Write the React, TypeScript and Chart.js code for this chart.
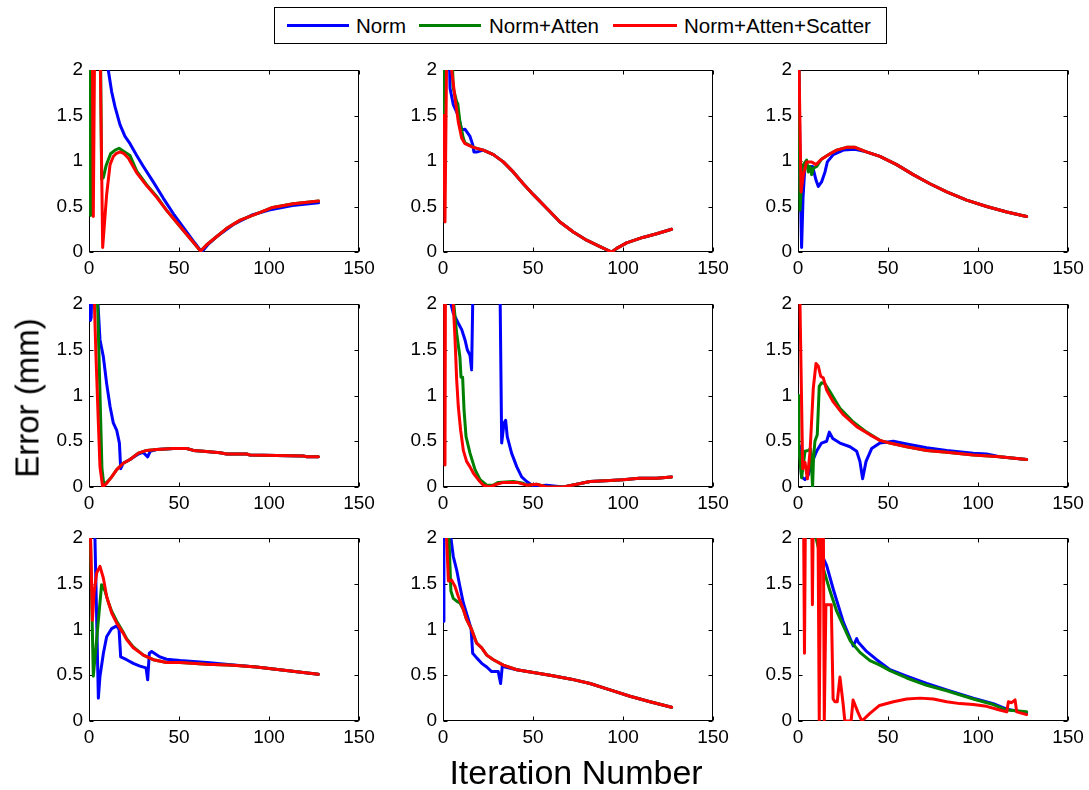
import React, { useEffect, useRef } from 'react';
import { Chart, registerables } from 'chart.js';

Chart.register(...registerables);

// ---------- axes / legend ----------
const xTickValues = [0, 50, 100, 150];
const xTickLabels = ['0', '50', '100', '150'];
const yTickValues = [0, 0.5, 1, 1.5, 2];
const yTickLabels = ['0', '0.5', '1', '1.5', '2'];
const seriesNames = ['Norm', 'Norm+Atten', 'Norm+Atten+Scatter'];
const seriesColors = ['#0000ff', '#008000', '#ff0000'];
const xTitle = 'Iteration Number';
const yTitle = 'Error (mm)';

// ---------- panel 1 (top left) ----------
const p1NormX = [1, 10, 10.7, 12.6, 14.4, 17.2, 20, 22.8, 26.5, 30.2, 35.7, 41.3, 46.9, 52.4, 58, 62.6, 66, 71, 80, 91, 100, 113, 127.5];
const p1NormY = [3.5, 2.4, 2.0, 1.76, 1.6, 1.4, 1.27, 1.19, 1.06, 0.94, 0.77, 0.59, 0.42, 0.27, 0.12, 0.0, 0.08, 0.17, 0.3, 0.41, 0.46, 0.51, 0.54];
const p1AttenX = [0.3, 0.9, 1.4, 6.3, 7, 8, 9.5, 12, 14.5, 16.7, 19, 22.8, 26.5, 32, 37.6, 43, 50.6, 57, 62, 65.4, 71, 76.5, 84, 93, 102, 113.5, 127.5];
const p1AttenY = [2.5, 0.4, 2.5, 2.5, 0.8, 0.82, 0.95, 1.08, 1.12, 1.14, 1.11, 1.06, 0.89, 0.74, 0.61, 0.46, 0.28, 0.13, 0.01, 0.08, 0.17, 0.26, 0.35, 0.42, 0.49, 0.53, 0.56];
const p1ScatX = [1, 1.8, 2.4, 3.2, 6, 7.6, 9.8, 11.7, 13.5, 15, 17.2, 19.5, 21.9, 26.5, 32, 37.6, 43, 50.6, 57, 62, 65.4, 71, 76.5, 84, 93, 102, 113.5, 127.5];
const p1ScatY = [2.5, 2.5, 0.39, 2.5, 2.5, 0.05, 0.63, 0.96, 1.05, 1.08, 1.1, 1.08, 1.03, 0.87, 0.73, 0.6, 0.46, 0.28, 0.13, 0.01, 0.08, 0.17, 0.26, 0.35, 0.42, 0.49, 0.53, 0.56];

// ---------- panel 2 (top middle) ----------
const p2NormX = [0.5, 3.2, 3.9, 5.7, 8.5, 10.4, 12.2, 15, 16.5, 17.2, 19, 22.4, 28, 33.5, 39, 44.6, 50.2, 57.6, 65, 72.4, 79.8, 87.2, 93.7, 96.5, 102, 111, 118.7, 127];
const p2NormY = [2.5, 2.5, 1.8, 1.62, 1.5, 1.34, 1.35, 1.27, 1.18, 1.1, 1.1, 1.12, 1.07, 0.99, 0.88, 0.75, 0.63, 0.48, 0.33, 0.22, 0.13, 0.06, 0.0, 0.04, 0.1, 0.16, 0.2, 0.25];
const p2AttenX = [0.2, 0.6, 4.5, 5.7, 7.6, 8.2, 9.4, 11.3, 12.2, 16.9, 22.4, 28, 33.5, 39, 44.6, 50.2, 57.6, 65, 72.4, 79.8, 87.2, 93.7, 96.5, 102, 111, 118.7, 127];
const p2AttenY = [1.5, 2.5, 2.5, 1.8, 1.65, 1.63, 1.43, 1.25, 1.2, 1.15, 1.12, 1.07, 0.99, 0.88, 0.75, 0.63, 0.48, 0.33, 0.22, 0.13, 0.06, 0.0, 0.04, 0.1, 0.16, 0.2, 0.25];
const p2ScatX = [0.3, 1.1, 2.2, 4.2, 4.8, 6.7, 8.5, 10.4, 12.2, 16.9, 22.4, 28, 33.5, 39, 44.6, 50.2, 57.6, 65, 72.4, 79.8, 87.2, 93.7, 96.5, 102, 111, 118.7, 127];
const p2ScatY = [1.5, 0.33, 2.5, 2.5, 2.0, 1.69, 1.43, 1.25, 1.19, 1.15, 1.12, 1.07, 0.99, 0.88, 0.75, 0.63, 0.48, 0.33, 0.22, 0.13, 0.06, 0.0, 0.04, 0.1, 0.16, 0.2, 0.25];

// ---------- panel 3 (top right) ----------
const p3NormX = [0.3, 1.2, 2, 2.8, 3.9, 5.7, 8.1, 10, 11.3, 13.1, 15, 16.3, 19.6, 25.2, 31.7, 38, 45.5, 54.8, 64, 73.3, 82.6, 93.7, 104.8, 116, 127];
const p3NormY = [2.5, 0.8, 0.05, 0.6, 0.96, 0.94, 0.94, 0.79, 0.72, 0.77, 0.88, 0.99, 1.07, 1.12, 1.13, 1.1, 1.05, 0.96, 0.85, 0.75, 0.66, 0.57, 0.5, 0.44, 0.39];
const p3AttenX = [0.3, 1.1, 2, 3, 4.8, 5.7, 6.7, 7.6, 8.5, 10.4, 13, 17.8, 21.5, 27, 31.7, 38, 45.5, 54.8, 64, 73.3, 82.6, 93.7, 104.8, 116, 127];
const p3AttenY = [2.5, 0.46, 0.75, 0.96, 1.01, 0.88, 0.94, 0.85, 0.92, 0.94, 1.02, 1.08, 1.12, 1.15, 1.15, 1.1, 1.05, 0.96, 0.85, 0.75, 0.66, 0.57, 0.5, 0.44, 0.39];
const p3ScatX = [0.2, 1.7, 3, 4.8, 7.6, 10, 13, 17.8, 21.5, 27, 31.7, 38, 45.5, 54.8, 64, 73.3, 82.6, 93.7, 104.8, 116, 127];
const p3ScatY = [2.5, 0.66, 0.85, 0.99, 0.99, 0.96, 1.02, 1.08, 1.12, 1.15, 1.15, 1.1, 1.05, 0.96, 0.85, 0.75, 0.66, 0.57, 0.5, 0.44, 0.39];

// ---------- panel 4 (middle left) ----------
const p4NormX = [0.2, 0.8, 1.2, 2, 5, 6.1, 8, 9.8, 11.7, 13.5, 15.4, 16.9, 17.6, 19, 22.8, 27.4, 30, 32.6, 34, 37.6, 46.9, 54.3, 58, 63.5, 72.8, 76.5, 87.6, 89.4, 119, 121, 127.4];
const p4NormY = [2.5, 1.82, 1.85, 2.5, 2.0, 1.61, 1.42, 1.13, 0.88, 0.7, 0.62, 0.48, 0.2, 0.26, 0.3, 0.36, 0.38, 0.33, 0.39, 0.41, 0.42, 0.42, 0.4, 0.39, 0.375, 0.36, 0.36, 0.35, 0.34, 0.33, 0.33];
const p4AttenX = [0.5, 4.8, 7.2, 8.1, 9.4, 12.6, 15.4, 19, 22.8, 27.4, 32, 37.6, 46.9, 54.3, 58, 63.5, 72.8, 76.5, 87.6, 89.4, 119, 121, 127.4];
const p4AttenY = [2.5, 2.0, 0.2, 0.05, 0.04, 0.11, 0.19, 0.26, 0.3, 0.37, 0.4, 0.41, 0.42, 0.42, 0.4, 0.39, 0.375, 0.36, 0.36, 0.35, 0.34, 0.33, 0.33];
const p4ScatX = [1, 3, 3.9, 5.2, 6.1, 7.6, 9.8, 12.6, 15.4, 19, 22.8, 27.4, 32, 37.6, 46.9, 54.3, 58, 63.5, 72.8, 76.5, 87.6, 89.4, 119, 121, 127.4];
const p4ScatY = [2.5, 2.0, 1.42, 0.7, 0.22, 0.0, 0.04, 0.11, 0.19, 0.26, 0.3, 0.37, 0.4, 0.41, 0.42, 0.42, 0.4, 0.39, 0.375, 0.36, 0.36, 0.35, 0.34, 0.33, 0.33];

// ---------- panel 5 (centre) ----------
const p5NormX = [1, 4.4, 5.7, 8.5, 10.4, 12.2, 13.5, 15, 15.9, 16.5, 17, 31.5, 32.6, 33.9, 34.8, 35.7, 38.1, 41, 43.7, 46.5, 50.2, 57.6, 66.9, 74.3, 81.7, 92.8, 100, 109, 118.7, 127];
const p5NormY = [2.5, 2.0, 1.9, 1.79, 1.72, 1.61, 1.5, 1.44, 1.28, 2.0, 2.5, 2.5, 0.48, 0.7, 0.73, 0.55, 0.37, 0.22, 0.11, 0.06, 0.01, 0.02, 0.0, 0.03, 0.06, 0.07, 0.08, 0.095, 0.095, 0.11];
const p5AttenX = [1, 5.5, 7.6, 9.4, 10, 10.9, 11.7, 12.8, 15, 17.8, 20.6, 24.3, 28, 30.7, 39, 44.6, 46.5, 52, 57.6, 66.9, 74.3, 81.7, 92.8, 100, 109, 118.7, 127];
const p5AttenY = [2.5, 2.1, 1.68, 1.42, 1.2, 1.2, 0.84, 0.55, 0.37, 0.19, 0.08, 0.02, 0.02, 0.05, 0.06, 0.04, 0.02, 0.03, 0.0, 0.0, 0.03, 0.06, 0.07, 0.08, 0.095, 0.095, 0.11];
const p5ScatX = [0.9, 1.1, 1.4, 5, 5.7, 6.7, 7.6, 8.5, 9.8, 11.3, 13.1, 15, 16.9, 19.6, 22.4, 26, 29.8, 33.5, 41, 46.5, 52, 57.6, 66.9, 74.3, 81.7, 92.8, 100, 109, 118.7, 127];
const p5ScatY = [2.5, 0.24, 2.5, 2.5, 2.0, 1.61, 1.17, 0.88, 0.62, 0.4, 0.28, 0.22, 0.15, 0.08, 0.02, 0.0, 0.03, 0.05, 0.05, 0.02, 0.03, 0.0, 0.0, 0.03, 0.06, 0.07, 0.08, 0.095, 0.095, 0.11];

// ---------- panel 6 (middle right) ----------
const p6NormX = [0.8, 2, 3.9, 5.7, 7.6, 10.3, 13.1, 15.9, 17.4, 19.3, 23.3, 28.9, 32.6, 34.4, 35.9, 37.8, 40.9, 45.5, 53, 60.4, 71.5, 82.6, 97.4, 104.8, 112, 127];
const p6NormY = [0.45, 0.11, 0.08, 0.13, 0.26, 0.39, 0.48, 0.5, 0.6, 0.53, 0.48, 0.44, 0.39, 0.28, 0.09, 0.28, 0.42, 0.48, 0.5, 0.47, 0.43, 0.4, 0.37, 0.36, 0.33, 0.3];
const p6AttenX = [0.1, 0.5, 2, 3.9, 5.7, 7, 7.6, 8.1, 8.6, 9.4, 10.7, 11.8, 13.1, 14.9, 17.8, 23.3, 30.7, 38.1, 45.5, 51, 60.4, 71.5, 82.6, 97.4, 112, 127];
const p6AttenY = [1.0, 0.42, 0.1, 0.39, 0.4, 0.42, 0.2, 0.0, 0.3, 0.5, 0.57, 1.1, 1.14, 1.13, 1.04, 0.86, 0.71, 0.6, 0.51, 0.48, 0.44, 0.4, 0.38, 0.35, 0.33, 0.3];
const p6ScatX = [0.5, 1.1, 2.6, 3.9, 5.2, 6.7, 8.5, 10, 11.3, 12.6, 14.1, 15.9, 19.6, 25.2, 32.6, 40, 45.5, 51, 60.4, 71.5, 82.6, 97.4, 112, 127];
const p6ScatY = [2.5, 2.0, 0.2, 0.27, 0.09, 0.39, 1.08, 1.35, 1.32, 1.21, 1.19, 1.06, 0.93, 0.79, 0.66, 0.57, 0.51, 0.48, 0.44, 0.4, 0.38, 0.35, 0.33, 0.3];

// ---------- panel 7 (bottom left) ----------
const p7NormX = [0.5, 3, 3.3, 5.2, 6.1, 8, 9.8, 12.6, 15.4, 16.7, 17.6, 20.9, 24.6, 28.3, 31.7, 32.6, 33.5, 34.8, 39.4, 43.1, 50.6, 65.4, 82, 93, 106, 119, 127.4];
const p7NormY = [2.5, 2.5, 2.0, 0.25, 0.49, 0.74, 0.92, 1.01, 1.04, 1.0, 0.7, 0.67, 0.63, 0.6, 0.58, 0.45, 0.74, 0.76, 0.7, 0.675, 0.66, 0.64, 0.61, 0.59, 0.56, 0.53, 0.51];
const p7AttenX = [0.3, 1.2, 2.4, 7, 8.9, 10.7, 12.6, 15.4, 19, 20.9, 24.6, 30.2, 35.7, 43.1, 50.6, 65.4, 80, 93, 106, 119, 127.4];
const p7AttenY = [2.5, 1.6, 0.49, 1.49, 1.42, 1.3, 1.2, 1.09, 0.97, 0.9, 0.81, 0.72, 0.67, 0.64, 0.64, 0.62, 0.61, 0.59, 0.56, 0.53, 0.51];
const p7ScatX = [0.3, 1.9, 2.8, 4.3, 6.1, 8, 9.8, 12.6, 15.4, 19, 20.9, 24.6, 30.2, 35.7, 43.1, 50.6, 65.4, 80, 93, 106, 119, 127.4];
const p7ScatY = [2.5, 1.1, 1.4, 1.62, 1.69, 1.56, 1.36, 1.18, 1.07, 0.96, 0.89, 0.8, 0.72, 0.67, 0.64, 0.64, 0.62, 0.61, 0.59, 0.56, 0.53, 0.51];

// ---------- panel 8 (bottom middle) ----------
const p8NormX = [0.2, 0.5, 4.4, 5.7, 7.6, 9.4, 11.3, 14.1, 15.6, 16.5, 18.7, 21.5, 24.3, 27, 30.7, 32, 33, 34.4, 41, 50.2, 59.4, 70.6, 81.7, 92.8, 103.9, 115, 127];
const p8NormY = [1.09, 2.5, 2.0, 1.8, 1.65, 1.47, 1.29, 1.11, 1.01, 0.74, 0.69, 0.63, 0.59, 0.54, 0.54, 0.41, 0.61, 0.59, 0.56, 0.53, 0.5, 0.46, 0.41, 0.34, 0.27, 0.21, 0.15];
const p8AttenX = [1.5, 3.3, 4.4, 5.7, 7.6, 9.4, 11.3, 13.1, 15.9, 18.7, 21.5, 24.3, 28, 33.5, 41, 50.2, 59.4, 70.6, 81.7, 92.8, 103.9, 115, 127];
const p8AttenY = [2.5, 2.0, 1.42, 1.34, 1.31, 1.29, 1.22, 1.11, 1.0, 0.85, 0.8, 0.72, 0.67, 0.61, 0.56, 0.53, 0.5, 0.46, 0.41, 0.34, 0.27, 0.21, 0.15];
const p8ScatX = [1, 2, 3, 4.8, 6.7, 8.5, 11.3, 13.1, 15.9, 18.7, 21.5, 24.3, 28, 33.5, 41, 50.2, 59.4, 70.6, 81.7, 92.8, 103.9, 115, 127];
const p8ScatY = [2.5, 2.0, 1.53, 1.54, 1.47, 1.36, 1.22, 1.11, 1.0, 0.85, 0.8, 0.72, 0.67, 0.61, 0.56, 0.53, 0.5, 0.46, 0.41, 0.34, 0.27, 0.21, 0.15];

// ---------- panel 9 (bottom right) ----------
const p9NormX = [9.5, 10.7, 12.2, 15.9, 19.6, 25.2, 30.7, 32.6, 33.5, 38.1, 43.7, 51.1, 60.4, 71.5, 82.6, 97.4, 108.5, 116, 127];
const p9NormY = [2.5, 2.0, 1.86, 1.7, 1.44, 1.08, 0.82, 0.9, 0.86, 0.76, 0.67, 0.56, 0.49, 0.41, 0.34, 0.25, 0.19, 0.13, 0.09];
const p9AttenX = [9, 10, 14, 17.8, 21.5, 25.2, 28.9, 34.4, 40, 45.5, 51.1, 60.4, 71.5, 82.6, 97.4, 108.5, 116, 127];
const p9AttenY = [2.5, 2.0, 1.67, 1.42, 1.2, 1.04, 0.88, 0.75, 0.66, 0.61, 0.55, 0.47, 0.39, 0.33, 0.24, 0.18, 0.12, 0.1];
const p9ScatX = [1, 3, 3.6, 4.2, 7.5, 8, 8.6, 11, 11.8, 12.8, 14, 14.6, 15.5, 18.5, 19.5, 20.5, 21.8, 23.3, 25, 26, 29.5, 30.6, 33.2, 35.5, 39.8, 45.3, 53, 60.4, 67.8, 75.2, 82.6, 90, 97.4, 104.8, 112, 116, 116.9, 118.7, 120.6, 121.5, 127];
const p9ScatY = [2.5, 2.5, 0.74, 2.5, 2.5, 1.27, 2.5, 2.5, 0.01, 2.5, 2.5, 0.01, 1.27, 1.27, 0.24, 0.21, 0.21, 0.48, 0.2, 0.0, 0.0, 0.23, 0.1, 0.0, 0.08, 0.17, 0.21, 0.24, 0.25, 0.24, 0.21, 0.19, 0.18, 0.16, 0.12, 0.1, 0.21, 0.2, 0.23, 0.1, 0.07];

const panels = [
  [[p1NormX, p1NormY], [p1AttenX, p1AttenY], [p1ScatX, p1ScatY]],
  [[p2NormX, p2NormY], [p2AttenX, p2AttenY], [p2ScatX, p2ScatY]],
  [[p3NormX, p3NormY], [p3AttenX, p3AttenY], [p3ScatX, p3ScatY]],
  [[p4NormX, p4NormY], [p4AttenX, p4AttenY], [p4ScatX, p4ScatY]],
  [[p5NormX, p5NormY], [p5AttenX, p5AttenY], [p5ScatX, p5ScatY]],
  [[p6NormX, p6NormY], [p6AttenX, p6AttenY], [p6ScatX, p6ScatY]],
  [[p7NormX, p7NormY], [p7AttenX, p7AttenY], [p7ScatX, p7ScatY]],
  [[p8NormX, p8NormY], [p8AttenX, p8AttenY], [p8ScatX, p8ScatY]],
  [[p9NormX, p9NormY], [p9AttenX, p9AttenY], [p9ScatX, p9ScatY]],
];

// ---------- layout ----------
const FONT = "'Liberation Sans', Arial, sans-serif";
const colLefts = [89, 443, 798];
const rowTops = [70, 304, 538];
const rowHeights = [182, 183, 183];
const PLOT_W = 270;
const AXIS_W = 60;
const AXIS_H = 32;
const PAD_T = 20;
const PAD_R = 28;

const boxPlugin = {
  id: 'matlabBox',
  beforeDatasetsDraw(chart: any) {
    const { ctx, chartArea: a, scales } = chart;
    ctx.save();
    ctx.strokeStyle = '#000';
    ctx.lineWidth = 1;
    const L = Math.round(a.left) + 0.5;
    const R = Math.round(a.right) - 0.5;
    const T = Math.round(a.top) + 0.5;
    const B = Math.round(a.bottom) - 0.5;
    ctx.strokeRect(L, T, R - L, B - T);
    ctx.beginPath();
    for (const v of xTickValues) {
      const px = Math.round(scales.x.getPixelForValue(v)) + 0.5;
      ctx.moveTo(px, B); ctx.lineTo(px, B - 4);
      ctx.moveTo(px, T); ctx.lineTo(px, T + 4);
    }
    for (const v of yTickValues) {
      const py = Math.round(scales.y.getPixelForValue(v)) + 0.5;
      ctx.moveTo(L, py); ctx.lineTo(L + 4, py);
      ctx.moveTo(R, py); ctx.lineTo(R - 4, py);
    }
    ctx.stroke();
    ctx.restore();
  },
};

function Panel({ idx }: { idx: number }) {
  const ref = useRef<HTMLCanvasElement>(null);
  const col = idx % 3;
  const row = Math.floor(idx / 3);
  const w = AXIS_W + PLOT_W + PAD_R;
  const h = PAD_T + rowHeights[row] + AXIS_H;

  useEffect(() => {
    if (!ref.current) return;
    const series = panels[idx];
    const chart = new Chart(ref.current, {
      type: 'line',
      data: {
        datasets: series.map(([xs, ys], k) => ({
          label: seriesNames[k],
          data: xs.map((x, i) => ({ x, y: ys[i] })),
          borderColor: seriesColors[k],
          backgroundColor: seriesColors[k],
          borderWidth: 3,
          pointRadius: 0,
          tension: 0,
          fill: false,
          order: 3 - k,
          borderJoinStyle: 'round',
          borderCapStyle: 'round',
        })),
      },
      options: {
        animation: false,
        responsive: false,
        devicePixelRatio: 1,
        layout: { padding: { left: 0, top: PAD_T, right: PAD_R, bottom: 0 } },
        plugins: { legend: { display: false }, tooltip: { enabled: false } },
        events: [],
        scales: {
          x: {
            type: 'linear',
            min: 0,
            max: 150,
            grid: { display: false, drawTicks: false },
            border: { display: false },
            afterBuildTicks: (s: any) => { s.ticks = xTickValues.map((v) => ({ value: v })); },
            afterFit: (s: any) => { s.height = AXIS_H; },
            ticks: {
              padding: 5,
              color: '#000',
              maxRotation: 0,
              autoSkip: false,
              font: { family: FONT, size: 19 },
              callback: (v: any) => xTickLabels[xTickValues.indexOf(Number(v))] ?? '',
            },
          },
          y: {
            type: 'linear',
            min: 0,
            max: 2,
            grid: { display: false, drawTicks: false },
            border: { display: false },
            afterBuildTicks: (s: any) => { s.ticks = yTickValues.map((v) => ({ value: v })); },
            afterFit: (s: any) => { s.width = AXIS_W; },
            ticks: {
              padding: 6,
              color: '#000',
              autoSkip: false,
              font: { family: FONT, size: 19 },
              callback: (v: any) => yTickLabels[yTickValues.indexOf(Number(v))] ?? '',
            },
          },
        },
      },
      plugins: [boxPlugin],
    } as any);
    return () => chart.destroy();
  }, [idx]);

  return (
    <canvas
      ref={ref}
      width={w}
      height={h}
      style={{ position: 'absolute', left: colLefts[col] - AXIS_W, top: rowTops[row] - PAD_T, width: w, height: h }}
    />
  );
}

const legendLines = [
  { left: 287, width: 62 },
  { left: 419, width: 62 },
  { left: 613, width: 64 },
];
const legendTextLefts = [356, 489, 684];

export default function App() {
  return (
    <div
      style={{
        position: 'absolute', left: 0, top: 0, width: 1089, height: 790,
        overflow: 'hidden', background: '#fff', fontFamily: FONT, color: '#000',
      }}
    >
      {panels.map((_, i) => <Panel key={i} idx={i} />)}

      {/* legend */}
      <div
        style={{
          position: 'absolute', left: 274, top: 7, width: 613, height: 37,
          border: '1px solid #000', boxSizing: 'border-box', background: '#fff',
        }}
      />
      {seriesNames.map((name, k) => (
        <React.Fragment key={name}>
          <div
            style={{
              position: 'absolute', left: legendLines[k].left, top: 24, width: legendLines[k].width,
              height: 3, background: seriesColors[k],
            }}
          />
          <div
            style={{
              position: 'absolute', left: legendTextLefts[k], top: 8, height: 35, lineHeight: '35px',
              fontSize: 20.5, whiteSpace: 'nowrap',
            }}
          >
            {name}
          </div>
        </React.Fragment>
      ))}

      {/* axis titles */}
      <div
        style={{
          position: 'absolute', left: 27, top: 398, transform: 'translate(-50%, -50%) rotate(-90deg)',
          fontSize: 33, whiteSpace: 'nowrap', lineHeight: 1,
        }}
      >
        {yTitle}
      </div>
      <div
        style={{
          position: 'absolute', left: 576, top: 772, transform: 'translate(-50%, -50%)',
          fontSize: 34, whiteSpace: 'nowrap', lineHeight: 1,
        }}
      >
        {xTitle}
      </div>
    </div>
  );
}
